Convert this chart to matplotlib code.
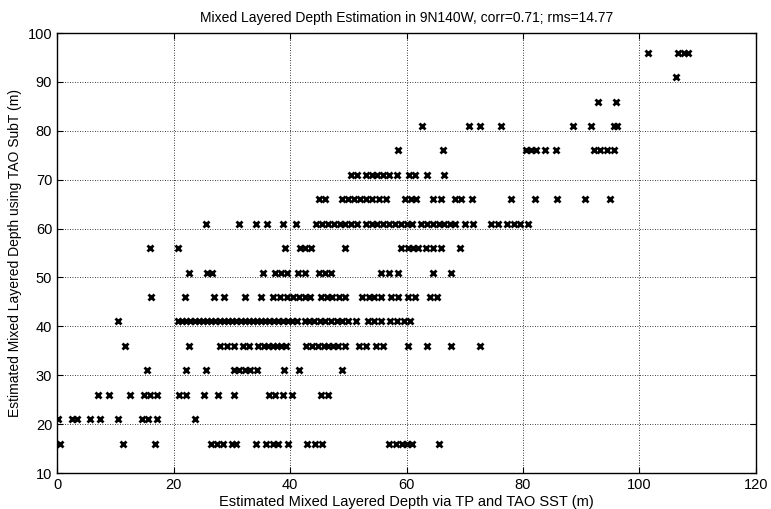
import numpy as np
import matplotlib
matplotlib.use("Agg")
import matplotlib.pyplot as plt

# estimated mixed layer depth (TP + TAO SST) for each TAO SubT level
rows = {
    96: [101.5, 106.6, 107.6, 108.3],
    91: [106.3],
    86: [92.8, 95.9],
    81: [62.7, 70.8, 72.6, 76.2, 88.5, 91.6, 95.6, 96.2],
    76: [58.6, 66.3, 80.5, 81.3, 82.2, 83.8, 85.6, 92.2, 93.3, 94.5, 95.7],
    71: [50.5, 51.5, 53, 54, 55, 56, 57, 58.3, 60.5, 61.5, 63.5, 66.5],
    66: [45, 46, 49, 50, 51, 52, 53, 54, 55.3, 56.5, 59.8, 60.8, 61.6, 64.6,
         66, 68.4, 69.4, 71.2, 78, 82, 85.8, 90.6, 95],
    61: [25.5, 31.3, 34.2, 36, 38.8, 41, 44.5, 45.5, 46.5, 47.5, 48.5, 49.5,
         50.5, 51.5, 53, 54, 55, 56, 57, 58, 59, 60, 61, 62.5, 63.5, 64.5,
         65.5, 66.5, 67.5, 68.3, 70, 71.5, 74.5, 75.7, 77.2, 78.5, 79.5, 80.8],
    56: [15.9, 20.7, 39.1, 41.7, 42.6, 43.6, 49.5, 59, 60.2, 61.2, 62, 63.4,
         64.6, 66, 69.2],
    51: [22.6, 25.8, 26.6, 35.4, 37.5, 38.5, 39.5, 41.3, 42.6, 45, 46, 47,
         55.7, 57, 58.6, 64.6, 67.7],
    46: [16.2, 21.9, 26.9, 28.6, 32.2, 35, 37, 38.2, 39.5, 40.5, 41.5, 42.5,
         43.5, 45.3, 46.3, 47.2, 48.4, 49.4, 52.3, 53.5, 54.5, 55.6, 57.3,
         58.6, 60.2, 61.5, 64, 65.3],
    41: [10.4, 20.8, 21.5, 22.2, 22.9, 23.6, 24.3, 25, 25.8, 26.5, 27.2, 28,
         28.7, 29.4, 30.1, 30.8, 31.5, 32.2, 32.9, 33.6, 34.3, 35, 35.7, 36.4,
         37.2, 38, 38.8, 39.6, 40.4, 41.2, 42.5, 43.3, 44.2, 45.2, 46, 47, 48,
         49, 50, 51.3, 53.4, 54.4, 55.6, 57.2, 58.4, 59.6, 60.6],
    36: [11.6, 22.7, 28, 29.2, 30.3, 32, 33, 34.5, 35.5, 36.3, 37, 37.8, 38.5,
         39.3, 42.8, 43.8, 44.8, 45.8, 46.6, 47.4, 48.3, 49.5, 51.8, 53, 54.8,
         56, 60.2, 63.6, 67.7, 72.6],
    31: [15.4, 22.2, 25.6, 30.3, 31.2, 32.2, 33.2, 34.4, 39, 41.5, 48.9],
    26: [7, 9, 12.6, 15, 16, 17.1, 21, 22.2, 25.3, 27.7, 30.3, 36.4, 37.5,
         38.8, 40.3, 45.3, 46.5],
    21: [0.2, 2.6, 3.5, 5.6, 7.3, 10.4, 14.6, 15.6, 17.1, 23.6],
    16: [0.5, 11.3, 16.9, 26.5, 27.5, 28.5, 30, 30.8, 34.2, 35.8, 37, 38,
         39.7, 43, 44.3, 45.5, 57, 58.2, 59.2, 60, 61, 65.5],
}

xs, ys = [], []
for depth, vals in rows.items():
    xs += vals
    ys += [depth] * len(vals)

plt.rcParams['font.family'] = ['Liberation Sans', 'DejaVu Sans']

fig = plt.figure(figsize=(7.71, 5.09), dpi=100)
ax = fig.add_axes([0.074, 0.0707, 0.9065, 0.8643])
ax.plot(xs, ys, 'x', color='black', markersize=5, markeredgewidth=2)

ax.set_xlim(0, 120)
ax.set_ylim(10, 100)
ax.set_xticks(np.arange(0, 121, 20))
ax.set_yticks(np.arange(10, 101, 10))
ax.grid(True, linestyle=(0, (1, 2)), color='black', linewidth=0.6)
ax.tick_params(direction='in', length=4, labelsize=10.5, top=True, right=True,
               labeltop=False, labelright=False)
for s in ax.spines.values():
    s.set_linewidth(1.0)

ax.set_title('Mixed Layered Depth Estimation in 9N140W, corr=0.71; rms=14.77',
             fontsize=10, pad=8)
ax.set_xlabel('Estimated Mixed Layered Depth via TP and TAO SST (m)', fontsize=10.5, labelpad=2)
ax.set_ylabel('Estimated Mixed Layered Depth using TAO SubT (m)', fontsize=10, labelpad=4)

fig.savefig('out.png', dpi=100)
